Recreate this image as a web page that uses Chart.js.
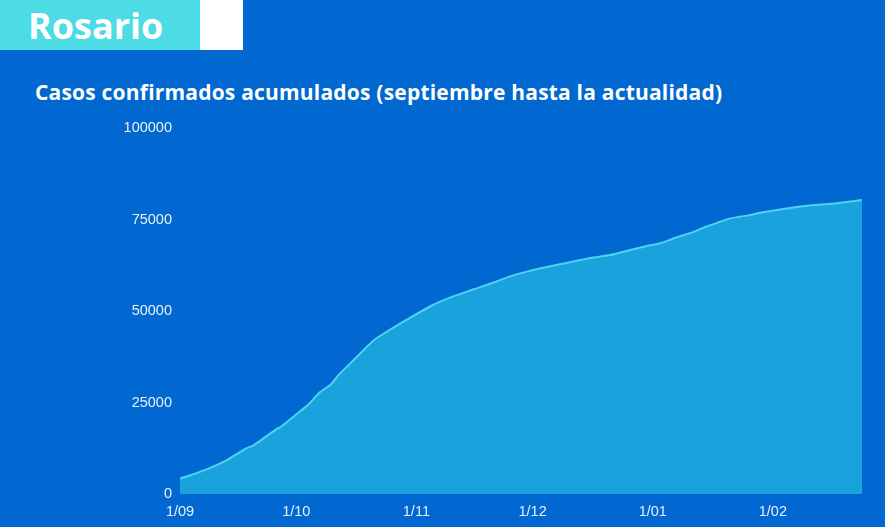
<!DOCTYPE html>
<html lang="es">
<head>
    <meta charset="UTF-8">
    <title>Rosario - Casos confirmados acumulados</title>
    <script src="https://cdn.jsdelivr.net/npm/chart.js"></script>
    <style>
        html, body {
            margin: 0;
            padding: 0;
            width: 885px;
            height: 527px;
            overflow: hidden;
            background: #0068d0;
            font-family: "Open Sans", sans-serif;
        }
        .cabecera {
            position: absolute;
            left: 0;
            top: 0;
            width: 200px;
            height: 50px;
            background: #4ddbe6;
        }
        .cabecera span {
            position: absolute;
            left: 28px;
            top: 1px;
            color: #fff;
            font-weight: 700;
            font-size: 36px;
        }
        .blanco {
            position: absolute;
            left: 200px;
            top: 0;
            width: 43px;
            height: 50px;
            background: #fff;
        }
        h1 {
            position: absolute;
            left: 35px;
            top: 78px;
            margin: 0;
            color: #fff;
            font-size: 21px;
            font-weight: 700;
            letter-spacing: 0.2px;
            white-space: nowrap;
        }
        .grafico {
            position: absolute;
            left: 0;
            top: 110px;
            width: 885px;
            height: 417px;
        }
    </style>
</head>
<body>
    <div class="cabecera"><span>Rosario</span></div>
    <div class="blanco"></div>
    <h1>Casos confirmados acumulados (septiembre hasta la actualidad)</h1>
    <div class="grafico"><canvas id="casosChart"></canvas></div>
    <script>
        // dias desde el 1/09
        const dias = [0, 6, 12, 17, 19, 25, 26, 31, 33, 36, 39, 41, 45, 50, 53, 59, 65, 70, 76, 81,
                      85, 90, 95, 101, 106, 111, 116, 121, 124, 128, 132, 135, 142, 147, 150, 157, 163, 168, 172, 176];
        const casos = [4200, 6400, 9200, 12400, 13300, 17800, 18300, 22600, 24300, 27700, 30000, 32600, 36800, 42000, 44100, 47900, 51500, 53800, 56000, 57800,
                       59400, 60900, 62100, 63400, 64500, 65300, 66600, 67900, 68500, 70100, 71400, 72700, 75300, 76200, 76900, 78100, 78900, 79300, 79800, 80300];

        const mesDias = [0, 30, 61, 91, 122, 153];
        const mesEtiquetas = ['1/09', '1/10', '1/11', '1/12', '1/01', '1/02'];

        const ctx = document.getElementById('casosChart').getContext('2d');
        const tickFont = { family: 'Liberation Sans', size: 14.5 };

        new Chart(ctx, {
            type: 'line',
            data: {
                datasets: [{
                    label: 'Casos confirmados',
                    data: dias.map((d, i) => ({ x: d, y: casos[i] })),
                    borderColor: '#4fd3f2',
                    backgroundColor: '#19a2dc',
                    borderWidth: 2,
                    fill: 'origin',
                    pointRadius: 0,
                    tension: 0.2
                }]
            },
            options: {
                responsive: true,
                maintainAspectRatio: false,
                animation: false,
                layout: { padding: { top: 18, right: 23, left: 0, bottom: 0 } },
                plugins: {
                    legend: { display: false },
                    tooltip: { enabled: false }
                },
                scales: {
                    x: {
                        type: 'linear',
                        min: 0,
                        max: 176,
                        grid: { display: false, drawTicks: true, tickLength: 8 },
                        border: { display: false },
                        afterBuildTicks: (axis) => {
                            axis.ticks = mesDias.map(v => ({ value: v }));
                        },
                        afterFit: (axis) => { axis.height = 33; },
                        ticks: {
                            color: 'rgba(255,255,255,0.9)',
                            font: tickFont,
                            padding: 1,
                            maxRotation: 0,
                            autoSkip: false,
                            callback: (v) => mesEtiquetas[mesDias.indexOf(v)]
                        }
                    },
                    y: {
                        min: 0,
                        max: 100000,
                        grid: { display: false, drawTicks: true, tickLength: 8 },
                        border: { display: false },
                        afterFit: (axis) => { axis.width = 180; },
                        ticks: {
                            stepSize: 25000,
                            color: 'rgba(255,255,255,0.9)',
                            font: tickFont,
                            padding: 0,
                            callback: (v) => String(v)
                        }
                    }
                }
            }
        });
    </script>
</body>
</html>
